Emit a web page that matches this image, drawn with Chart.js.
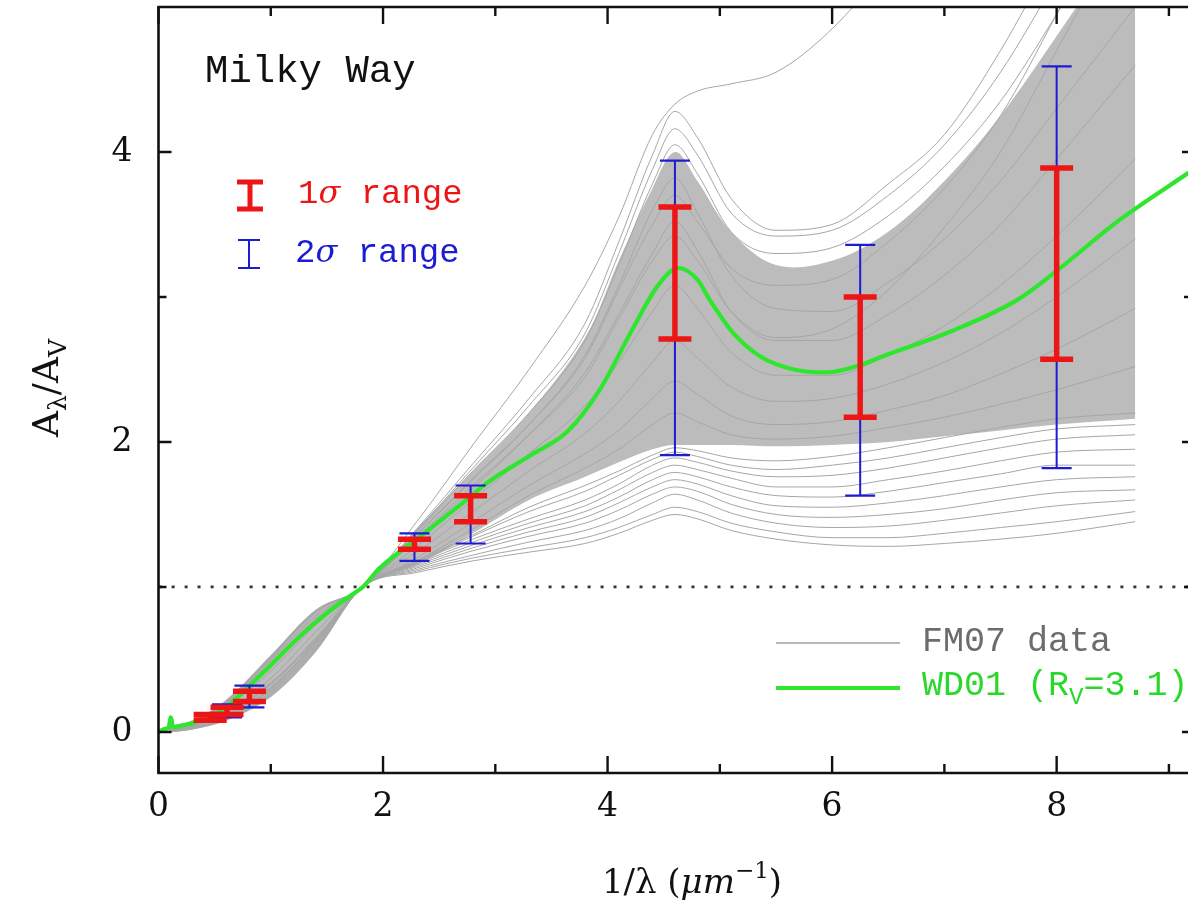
<!DOCTYPE html>
<html><head><meta charset="utf-8">
<script src="https://cdn.jsdelivr.net/npm/chart.js@4/dist/chart.umd.min.js"></script>
<style>html,body{margin:0;padding:0;background:#fff;overflow:hidden}</style>
</head><body>
<canvas id="c" width="1188" height="906"></canvas>
<script>
// ---- axis ticks ----
const xTicks = [0, 2, 4, 6, 8];
const xMinor = [1, 3, 5, 7, 9];
const yTicks = [0, 2, 4];
const yMinor = [1, 3];

// ---- WD01 (Rv=3.1) curve ----
const wdX = [0, 0.05, 0.09, 0.11, 0.13, 0.18, 0.3, 0.45, 0.6, 0.84, 0.96, 1.26, 1.5, 1.71, 1.82, 1.97, 2.3, 2.71, 2.93, 3.34, 3.64, 3.93, 4.23, 4.45, 4.63, 4.8, 4.91, 5.12, 5.36, 5.66, 5.95, 6.25, 6.45, 7.05, 7.65, 8.0, 8.54, 9.2];
const wdY = [0, 0.02, 0.03, 0.10, 0.035, 0.04, 0.06, 0.10, 0.17, 0.34, 0.43, 0.66, 0.82, 0.94, 1.0, 1.13, 1.33, 1.58, 1.72, 1.92, 2.07, 2.36, 2.79, 3.08, 3.20, 3.12, 2.98, 2.75, 2.59, 2.50, 2.48, 2.53, 2.59, 2.76, 2.98, 3.18, 3.52, 3.87];

// ---- FM07 sight lines (sampled at fmX) ----
const fmX = [0.1, 0.3, 0.6, 1.0, 1.4, 1.82, 2.3, 2.8, 3.3, 3.8, 4.1, 4.4, 4.6, 4.8, 5.1, 5.5, 6.0, 6.5, 7.0, 7.5, 8.0, 8.7];
// dense core of the FM07 bundle (lower / upper edge)
const bandLo = [0.00, 0.02, 0.08, 0.24, 0.55, 1.0, 1.15, 1.37, 1.60, 1.76, 1.86, 1.95, 1.98, 1.98, 1.98, 1.97, 1.98, 2.00, 2.04, 2.08, 2.12, 2.16];
const bandHi = [0.04, 0.08, 0.22, 0.53, 0.84, 1.0, 1.40, 1.80, 2.20, 2.72, 3.25, 3.75, 4.00, 3.80, 3.45, 3.22, 3.25, 3.45, 3.80, 4.25, 4.80, 5.60];
// individual sight lines
const fmL1 = [0.00, 0.02, 0.08, 0.25, 0.56, 1.0, 1.10, 1.18, 1.24, 1.30, 1.37, 1.46, 1.50, 1.47, 1.39, 1.33, 1.29, 1.28, 1.30, 1.33, 1.37, 1.45];
const fmL2 = [0.00, 0.02, 0.09, 0.26, 0.57, 1.0, 1.11, 1.20, 1.27, 1.34, 1.41, 1.50, 1.55, 1.52, 1.44, 1.38, 1.34, 1.34, 1.37, 1.41, 1.45, 1.52];
const fmL3 = [0.01, 0.03, 0.09, 0.27, 0.58, 1.0, 1.12, 1.22, 1.31, 1.39, 1.47, 1.58, 1.64, 1.60, 1.51, 1.44, 1.41, 1.42, 1.46, 1.51, 1.56, 1.60];
const fmL4 = [0.01, 0.03, 0.10, 0.28, 0.59, 1.0, 1.13, 1.25, 1.35, 1.44, 1.53, 1.64, 1.69, 1.66, 1.57, 1.50, 1.48, 1.50, 1.54, 1.60, 1.65, 1.67];
const fmL5 = [0.01, 0.03, 0.10, 0.29, 0.60, 1.0, 1.14, 1.27, 1.38, 1.48, 1.58, 1.69, 1.74, 1.71, 1.63, 1.56, 1.55, 1.58, 1.63, 1.69, 1.74, 1.76];
const fmL6 = [0.01, 0.04, 0.11, 0.30, 0.61, 1.0, 1.15, 1.29, 1.41, 1.52, 1.62, 1.74, 1.79, 1.76, 1.69, 1.63, 1.62, 1.66, 1.72, 1.78, 1.84, 1.84];
const fmL7 = [0.01, 0.04, 0.12, 0.31, 0.62, 1.0, 1.16, 1.31, 1.44, 1.56, 1.67, 1.79, 1.84, 1.81, 1.75, 1.69, 1.69, 1.74, 1.80, 1.87, 1.93, 1.95];
const fmL8 = [0.02, 0.05, 0.13, 0.33, 0.63, 1.0, 1.17, 1.33, 1.47, 1.60, 1.71, 1.84, 1.89, 1.86, 1.80, 1.76, 1.77, 1.82, 1.89, 1.96, 2.02, 2.05];
const fmL9 = [0.02, 0.05, 0.13, 0.33, 0.63, 1.0, 1.17, 1.35, 1.52, 1.66, 1.77, 1.88, 1.93, 1.90, 1.84, 1.81, 1.84, 1.89, 1.96, 2.03, 2.09, 2.12];
const fmL10 = [0.02, 0.05, 0.14, 0.34, 0.64, 1.0, 1.18, 1.36, 1.55, 1.70, 1.80, 1.91, 1.96, 1.94, 1.89, 1.87, 1.90, 1.96, 2.03, 2.10, 2.16, 2.20];
const fmM1 = [0.01, 0.03, 0.10, 0.30, 0.62, 1.0, 1.18, 1.40, 1.63, 1.82, 1.95, 2.12, 2.20, 2.14, 2.05, 2.02, 2.04, 2.10, 2.17, 2.26, 2.36, 2.52];
const fmM2 = [0.01, 0.04, 0.12, 0.33, 0.65, 1.0, 1.20, 1.45, 1.70, 1.92, 2.08, 2.30, 2.42, 2.33, 2.18, 2.12, 2.14, 2.22, 2.32, 2.47, 2.64, 2.92];
const fmM3 = [0.02, 0.05, 0.14, 0.37, 0.69, 1.0, 1.24, 1.52, 1.80, 2.06, 2.28, 2.55, 2.70, 2.58, 2.38, 2.28, 2.30, 2.40, 2.55, 2.75, 3.00, 3.40];
const fmM4 = [0.02, 0.06, 0.17, 0.42, 0.74, 1.0, 1.28, 1.60, 1.92, 2.25, 2.55, 2.90, 3.08, 2.92, 2.62, 2.46, 2.46, 2.60, 2.80, 3.08, 3.42, 3.95];
const fmM5 = [0.03, 0.07, 0.19, 0.47, 0.78, 1.0, 1.33, 1.68, 2.05, 2.48, 2.88, 3.30, 3.52, 3.32, 2.90, 2.70, 2.70, 2.88, 3.15, 3.50, 3.95, 4.60];
const fmM6 = [0.03, 0.07, 0.20, 0.50, 0.80, 1.0, 1.36, 1.74, 2.12, 2.60, 3.08, 3.60, 3.82, 3.58, 3.15, 2.92, 2.90, 3.10, 3.40, 3.80, 4.30, 5.00];
const fmU1 = [0.03, 0.07, 0.21, 0.52, 0.84, 1.0, 1.45, 1.98, 2.50, 3.08, 3.55, 4.12, 4.33, 4.42, 4.47, 4.55, 4.85, 5.30, 5.90, 6.50, 7.20, 8.20];
const fmU2 = [0.03, 0.07, 0.21, 0.52, 0.83, 1.0, 1.40, 1.85, 2.30, 2.82, 3.38, 3.98, 4.28, 4.10, 3.68, 3.46, 3.50, 3.78, 4.12, 4.70, 5.40, 6.40];
const fmU3 = [0.03, 0.07, 0.21, 0.51, 0.83, 1.0, 1.39, 1.82, 2.25, 2.75, 3.30, 3.88, 4.16, 3.98, 3.58, 3.42, 3.46, 3.70, 4.05, 4.55, 5.20, 6.20];
const fmU4 = [0.03, 0.07, 0.20, 0.51, 0.82, 1.0, 1.38, 1.80, 2.20, 2.70, 3.22, 3.78, 4.05, 3.85, 3.45, 3.30, 3.34, 3.56, 3.90, 4.35, 4.95, 5.85];
const fmU5 = [0.02, 0.06, 0.19, 0.49, 0.80, 1.0, 1.36, 1.75, 2.12, 2.58, 3.05, 3.50, 3.70, 3.52, 3.20, 3.08, 3.12, 3.38, 3.75, 4.25, 4.95, 6.00];
const fmU6 = [0.02, 0.06, 0.18, 0.47, 0.78, 1.0, 1.34, 1.70, 2.05, 2.45, 2.85, 3.25, 3.42, 3.25, 2.90, 2.72, 2.78, 3.05, 3.48, 4.00, 4.70, 5.70];
const fmLines = [fmL1, fmL2, fmL3, fmL4, fmL5, fmL6, fmL7, fmL8, fmL9, fmL10, fmM1, fmM2, fmM3, fmM4, fmM5, fmM6, fmU1, fmU2, fmU3, fmU4, fmU5, fmU6];

// ---- 1 sigma / 2 sigma ranges ----
const errX = [0.46, 0.61, 0.81, 2.28, 2.78, 4.60, 6.25, 8.00];
const s1Lo = [0.08, 0.12, 0.21, 1.26, 1.45, 2.71, 2.17, 2.57];
const s1Hi = [0.12, 0.17, 0.28, 1.33, 1.63, 3.62, 3.00, 3.89];
const s2Lo = [0.07, 0.10, 0.17, 1.18, 1.30, 1.91, 1.63, 1.82];
const s2Hi = [0.13, 0.19, 0.32, 1.37, 1.70, 3.94, 3.36, 4.59];

const refLevel = 1.0;
const X_MIN = 0, X_MAX = 9.17, Y_MIN = -0.283, Y_MAX = 5.0;

const RED = '#ec1616', BLUE = '#1c1cd2', GREEN = '#2ee62e', GREY = '#a6a6a6';
const SERIF = '"DejaVu Serif", serif';
const MONO = '"Liberation Mono", monospace';

const pts = (xs, ys) => xs.map((v, i) => ({x: v, y: ys[i]}));

const datasets = [];
datasets.push({data: pts(wdX, wdY), borderColor: GREEN, borderWidth: 4.2, cubicInterpolationMode: 'monotone', pointRadius: 0, fill: false});
datasets.push({data: [{x: X_MIN, y: refLevel}, {x: X_MAX, y: refLevel}], borderColor: '#333', borderWidth: 2.8, borderDash: [3, 10], pointRadius: 0, fill: false});
fmLines.forEach(arr => datasets.push({data: pts(fmX, arr), borderColor: GREY, borderWidth: 1, cubicInterpolationMode: 'monotone', pointRadius: 0, fill: false}));
datasets.push({data: pts(fmX, bandLo), borderColor: 'rgba(0,0,0,0)', borderWidth: 0, cubicInterpolationMode: 'monotone', pointRadius: 0, fill: false});
datasets.push({data: pts(fmX, bandHi), borderColor: 'rgba(0,0,0,0)', borderWidth: 0, cubicInterpolationMode: 'default', tension: 0.35, pointRadius: 0, fill: '-1', backgroundColor: '#bcbcbc'});

function drawRich(ctx, parts, x, y, align) {
  let w = 0;
  parts.forEach(p => { ctx.font = p.font; w += ctx.measureText(p.t).width; });
  let cx = align === 'center' ? x - w / 2 : x;
  parts.forEach(p => {
    ctx.font = p.font;
    ctx.fillText(p.t, cx, y + (p.dy || 0));
    cx += ctx.measureText(p.t).width;
  });
}

const deco = {
  id: 'deco',
  afterDatasetsDraw(chart) {
    const {ctx, scales: {x, y}} = chart;
    ctx.save();
    ctx.lineCap = 'butt';
    function bar(xv, lo, hi, color, lw, capW, capLw) {
      const px = x.getPixelForValue(xv);
      const p1 = y.getPixelForValue(lo), p2 = y.getPixelForValue(hi);
      ctx.strokeStyle = color;
      ctx.lineWidth = lw;
      ctx.beginPath(); ctx.moveTo(px, p1); ctx.lineTo(px, p2); ctx.stroke();
      ctx.lineWidth = capLw;
      ctx.beginPath();
      ctx.moveTo(px - capW / 2, p1); ctx.lineTo(px + capW / 2, p1);
      ctx.moveTo(px - capW / 2, p2); ctx.lineTo(px + capW / 2, p2);
      ctx.stroke();
    }
    errX.forEach((xv, i) => bar(xv, s2Lo[i], s2Hi[i], BLUE, 2, 30, 2.2));
    errX.forEach((xv, i) => bar(xv, s1Lo[i], s1Hi[i], RED, 5.5, 33, 5.5));
    ctx.restore();
  },
  afterDraw(chart) {
    const {ctx, scales: {x, y}, chartArea: a} = chart;
    ctx.save();
    // frame
    ctx.strokeStyle = '#111';
    ctx.lineWidth = 2.6;
    ctx.beginPath();
    ctx.moveTo(a.right + 2, a.top); ctx.lineTo(a.left, a.top); ctx.lineTo(a.left, a.bottom); ctx.lineTo(a.right + 2, a.bottom);
    ctx.stroke();
    ctx.lineWidth = 2.4;
    ctx.beginPath();
    xTicks.forEach(v => { const p = x.getPixelForValue(v); ctx.moveTo(p, a.bottom); ctx.lineTo(p, a.bottom - 17); ctx.moveTo(p, a.top); ctx.lineTo(p, a.top + 17); });
    xMinor.forEach(v => { const p = x.getPixelForValue(v); ctx.moveTo(p, a.bottom); ctx.lineTo(p, a.bottom - 9); ctx.moveTo(p, a.top); ctx.lineTo(p, a.top + 9); });
    yTicks.forEach(v => { const p = y.getPixelForValue(v); ctx.moveTo(a.left, p); ctx.lineTo(a.left + 13, p); ctx.moveTo(a.right, p); ctx.lineTo(a.right - 6, p); });
    yMinor.forEach(v => { const p = y.getPixelForValue(v); ctx.moveTo(a.left, p); ctx.lineTo(a.left + 8, p); ctx.moveTo(a.right, p); ctx.lineTo(a.right - 4, p); });
    ctx.stroke();

    ctx.textBaseline = 'alphabetic';
    ctx.textAlign = 'left';
    // Milky Way
    ctx.fillStyle = '#111';
    ctx.font = '39px ' + MONO;
    ctx.fillText('Milky Way', 205, 82);

    // legend: sigma ranges
    ctx.lineCap = 'butt';
    ctx.strokeStyle = RED; ctx.lineWidth = 5;
    ctx.beginPath(); ctx.moveTo(250, 182); ctx.lineTo(250, 209); ctx.moveTo(237, 182); ctx.lineTo(263, 182); ctx.moveTo(237, 209); ctx.lineTo(263, 209); ctx.stroke();
    ctx.strokeStyle = BLUE; ctx.lineWidth = 2;
    ctx.beginPath(); ctx.moveTo(249, 240); ctx.lineTo(249, 268); ctx.moveTo(238, 240); ctx.lineTo(260, 240); ctx.moveTo(238, 268); ctx.lineTo(260, 268); ctx.stroke();
    ctx.fillStyle = RED;
    drawRich(ctx, [{t: '1', font: '34px ' + MONO}, {t: 'σ', font: 'italic 32px ' + SERIF}, {t: ' range', font: '34px ' + MONO}], 298, 203, 'left');
    ctx.fillStyle = BLUE;
    drawRich(ctx, [{t: '2', font: '34px ' + MONO}, {t: 'σ', font: 'italic 32px ' + SERIF}, {t: ' range', font: '34px ' + MONO}], 295, 262, 'left');

    // legend: FM07 / WD01
    ctx.strokeStyle = '#a0a0a0'; ctx.lineWidth = 1.6;
    ctx.beginPath(); ctx.moveTo(776, 643); ctx.lineTo(900, 643); ctx.stroke();
    ctx.strokeStyle = GREEN; ctx.lineWidth = 4.2;
    ctx.beginPath(); ctx.moveTo(776, 688); ctx.lineTo(900, 688); ctx.stroke();
    ctx.fillStyle = '#6c6c6c';
    ctx.font = '35px ' + MONO;
    ctx.fillText('FM07 data', 922, 651);
    ctx.fillStyle = '#2ad82a';
    drawRich(ctx, [{t: 'WD01 (R', font: '35px ' + MONO}, {t: 'V', font: '24px ' + MONO, dy: 9}, {t: '=3.1)', font: '35px ' + MONO}], 922, 695, 'left');

    // x title
    ctx.fillStyle = '#111';
    drawRich(ctx, [{t: '1/λ (', font: '34px ' + SERIF}, {t: 'μm', font: 'italic 34px ' + SERIF}, {t: '−1', font: '23px ' + SERIF, dy: -15}, {t: ')', font: '34px ' + SERIF}], 692, 893, 'center');

    // y title
    ctx.translate(58, 388);
    ctx.rotate(-Math.PI / 2);
    drawRich(ctx, [{t: 'A', font: '36px ' + SERIF}, {t: 'λ', font: '25px ' + SERIF, dy: 8}, {t: '/', font: '36px ' + SERIF}, {t: 'A', font: '36px ' + SERIF}, {t: 'V', font: '25px ' + SERIF, dy: 8}], 0, 0, 'center');
    ctx.restore();
  }
};

function zeroPad(s) { s.paddingTop = 0; s.paddingBottom = 0; s.paddingLeft = 0; s.paddingRight = 0; }

new Chart(document.getElementById('c'), {
  type: 'line',
  data: {datasets},
  options: {
    responsive: false,
    animation: false,
    devicePixelRatio: 1,
    events: [],
    layout: {padding: {top: 7, left: 0, right: 0, bottom: 0}},
    plugins: {legend: {display: false}, tooltip: {enabled: false}},
    elements: {line: {tension: 0.4}},
    scales: {
      x: {
        type: 'linear', min: X_MIN, max: X_MAX,
        afterBuildTicks: s => { s.ticks = xTicks.map(v => ({value: v})); },
        afterFit: s => { s.height = 133; zeroPad(s); },
        grid: {display: false, drawTicks: false},
        border: {display: false},
        ticks: {font: {family: 'DejaVu Serif', size: 33}, color: '#111', padding: 15, maxRotation: 0, autoSkip: false, callback: v => String(v)}
      },
      y: {
        type: 'linear', min: Y_MIN, max: Y_MAX,
        afterBuildTicks: s => { s.ticks = yTicks.map(v => ({value: v})); },
        afterFit: s => { s.width = 158.5; zeroPad(s); },
        grid: {display: false, drawTicks: false},
        border: {display: false},
        ticks: {font: {family: 'DejaVu Serif', size: 33}, color: '#111', padding: 26, autoSkip: false, callback: v => String(v)}
      }
    }
  },
  plugins: [deco]
});
</script>
</body></html>
